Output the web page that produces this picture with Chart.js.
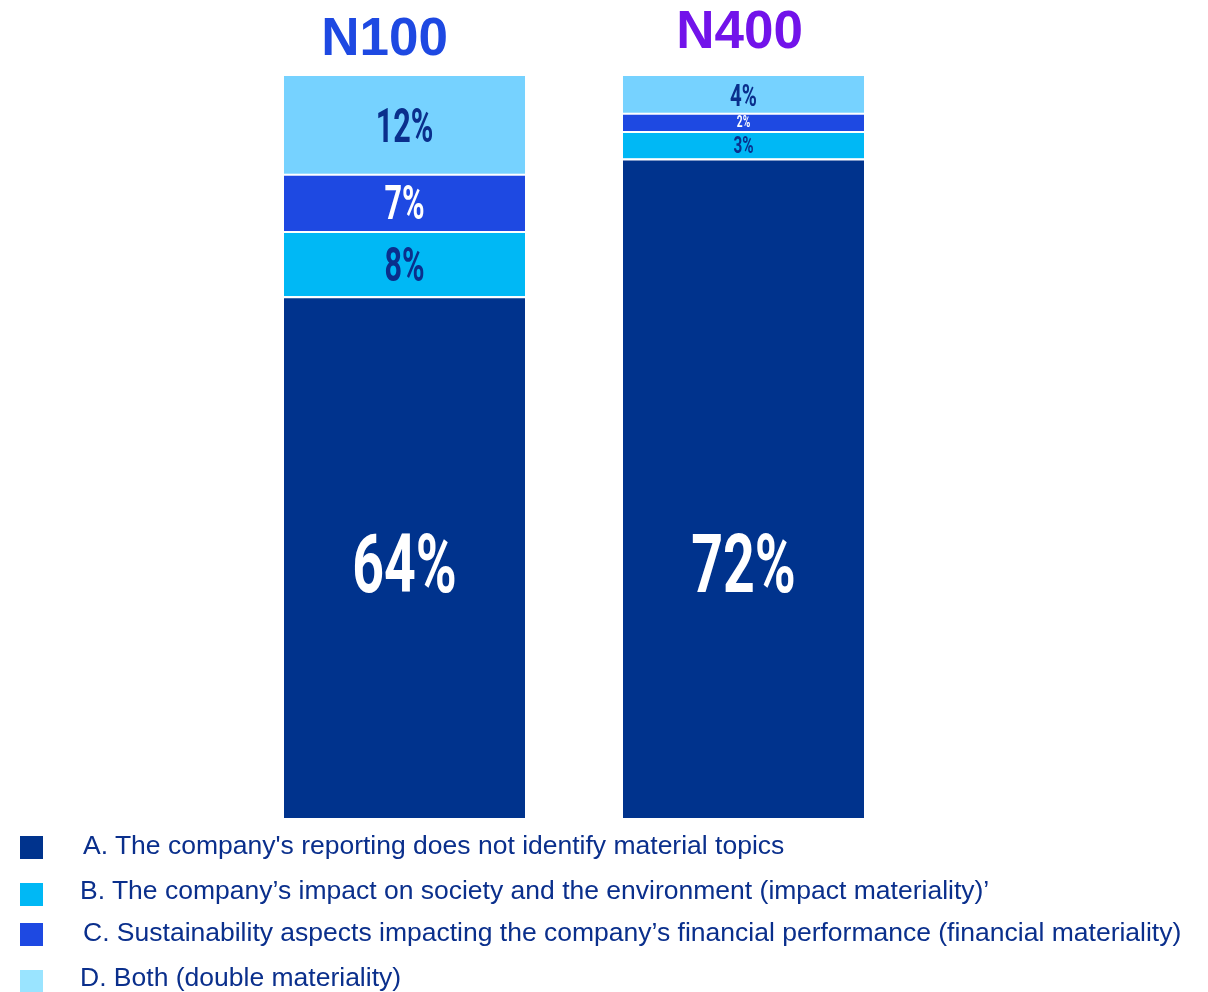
<!DOCTYPE html>
<html>
<head>
<meta charset="utf-8">
<script src="https://cdn.jsdelivr.net/npm/chart.js@4/dist/chart.umd.min.js"></script>
<style>
  html,body{margin:0;padding:0;background:#fff;}
  #wrap{position:relative;width:1208px;height:992px;overflow:hidden;}
  #chart{position:absolute;left:0;top:0;}
  .leg{position:absolute;left:0;width:1208px;height:30px;font:26.5px "Liberation Sans",Arial,sans-serif;color:#0a2f8c;}
  .leg i{position:absolute;left:20px;width:23px;height:23px;}
  .leg span{position:absolute;top:0;line-height:30px;white-space:nowrap;}
</style>
</head>
<body>
<div id="wrap">
  <canvas id="chart" width="1208" height="992"></canvas>
  <div id="legend"></div>
</div>
<script>
/* ── Data ── */
const groups   = ['N100','N400'];
const notIdentified = [64, 72];   // A
const impactMat     = [8, 3];     // B
const financialMat  = [7, 2];     // C
const doubleMat     = [12, 4];    // D
const seriesLabels = [
  "A. The company's reporting does not identify material topics",
  "B. The company’s impact on society and the environment (impact materiality)’",
  "C. Sustainability aspects impacting the company’s financial performance (financial materiality)",
  "D. Both (double materiality)"
];

/* ── Style ── */
const COLORS      = ['#00338d','#00b8f5','#1e49e2','#76d2ff'];
const LEGEND_COL  = ['#00338d','#00b8f5','#1e49e2','#9ae4ff'];
const LABEL_COL   = ['#ffffff','#0a2f8c','#ffffff','#0a2f8c'];
const TITLE_COL   = ['#1e49e2','#7213ea'];
const TITLE_POS   = [{dx:-20,dy:-41},{dx:-4,dy:-48}];
const LEGEND_ROWS = [{top:830,x:83,m:6},{top:875,x:80,m:8},{top:917,x:83,m:6},{top:962,x:80,m:8}];

const series = [notIdentified, impactMat, financialMat, doubleMat];

/* each column stacks on its own axis so the bar fills the full height */
const datasets = [];
groups.forEach((g,i)=>{
  series.forEach((vals,s)=>{
    datasets.push({
      label: seriesLabels[s],
      data: groups.map((_,j)=> j===i ? vals[j] : null),
      yAxisID: 'y'+i,
      stack: 'all',
      backgroundColor: COLORS[s],
      borderColor: '#ffffff',
      borderWidth: s<3 ? {top:2,bottom:0,left:0,right:0} : 0,
      borderSkipped: false,
      _s: s
    });
  });
});

const yAxes = {};
groups.forEach((g,i)=>{
  yAxes['y'+i] = { display:false, stacked:true, min:0, max: series.reduce((t,v)=>t+v[i],0) };
});

/* percentage labels inside the segments + column titles */
const barText = {
  id:'barText',
  afterDatasetsDraw(chart){
    const ctx = chart.ctx, area = chart.chartArea;
    chart.data.datasets.forEach((ds,di)=>{
      const meta = chart.getDatasetMeta(di);
      meta.data.forEach((el,k)=>{
        const v = ds.data[k];
        if (v==null) return;
        const h = Math.abs(el.base - el.y);
        const big = h>200;
        const cap = big ? 58 : Math.min(34, h*0.62);
        const size = cap/0.711;
        // big labels sit at a common height near the lower third
        const cy = big ? el.base - (area.bottom-area.top)*0.344 : (el.y+el.base)/2;
        ctx.save();
        ctx.translate(el.x, cy + cap/2);
        ctx.scale(big ? 0.68 : 0.64, 1);
        ctx.font = `bold ${size}px Roboto`;
        ctx.textAlign = 'center';
        ctx.textBaseline = 'alphabetic';
        ctx.fillStyle = LABEL_COL[ds._s];
        ctx.fillText(v+'%', 0, 0);
        ctx.restore();
      });
    });
    const x = chart.scales.x;
    groups.forEach((g,i)=>{
      ctx.save();
      ctx.font = 'bold 53px "Liberation Sans", Arial, sans-serif';
      ctx.textAlign = 'center';
      ctx.textBaseline = 'middle';
      ctx.fillStyle = TITLE_COL[i];
      ctx.fillText(g, x.getPixelForValue(i)+TITLE_POS[i].dx, area.top+TITLE_POS[i].dy+5);
      ctx.restore();
    });
  }
};

new Chart(document.getElementById('chart'), {
  type:'bar',
  data:{ labels:groups, datasets },
  options:{
    responsive:false,
    animation:false,
    layout:{ padding:{ left:235, right:295, top:76, bottom:174 } },
    datasets:{ bar:{ categoryPercentage:1, barPercentage:0.711 } },
    plugins:{ legend:{display:false}, tooltip:{enabled:false} },
    scales:{
      x:{ display:false, stacked:true },
      ...yAxes
    }
  },
  plugins:[barText]
});

/* ── Legend ── */
document.getElementById('legend').innerHTML = seriesLabels.map((l,s)=>`
  <div class="leg" style="top:${LEGEND_ROWS[s].top}px">
    <i style="background:${LEGEND_COL[s]};top:${LEGEND_ROWS[s].m}px"></i>
    <span style="left:${LEGEND_ROWS[s].x}px">${l}</span>
  </div>`).join('');
</script>
</body>
</html>
